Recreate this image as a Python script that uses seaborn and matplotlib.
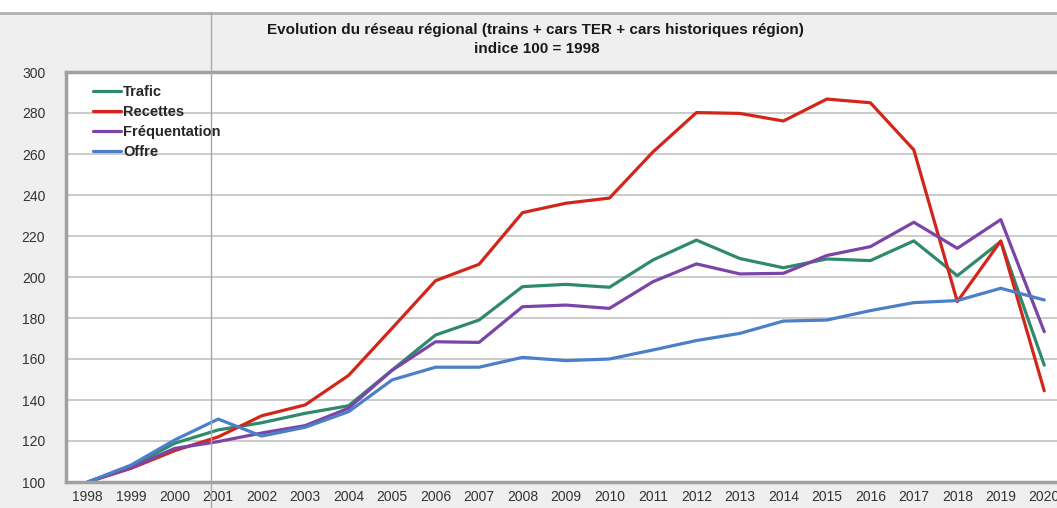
import numpy as np
import pandas as pd
import matplotlib
matplotlib.use("Agg")
import matplotlib.pyplot as plt
from matplotlib.lines import Line2D
from matplotlib.patches import Rectangle
import seaborn as sns

# indices (base 100 = 1998)
annees = list(range(1998, 2021))
trafic = [100, 107.5, 118.9, 125.4, 128.9, 133.5, 137.2, 154.6, 171.7, 179.0, 195.3, 196.4,
          195.0, 208.3, 218.0, 209.0, 204.5, 208.8, 208.0, 217.6, 200.6, 217.3, 157.0]
recettes = [100, 106.7, 115.3, 122.0, 132.3, 137.6, 152.0, 175.0, 198.2, 206.2, 231.4, 236.0,
            238.5, 261.0, 280.2, 279.8, 276.1, 286.8, 285.0, 262.0, 188.0, 217.6, 144.5]
frequentation = [100, 107.0, 116.4, 119.7, 123.9, 127.5, 136.0, 154.5, 168.4, 168.1, 185.5, 186.3,
                 184.7, 197.7, 206.4, 201.5, 201.8, 210.5, 214.8, 226.7, 214.0, 228.0, 173.3]
offre = [100, 108.3, 120.5, 130.7, 122.4, 126.7, 134.3, 149.8, 156.0, 156.0, 160.8, 159.2,
         160.0, 164.4, 169.0, 172.5, 178.5, 179.0, 183.6, 187.5, 188.5, 194.5, 188.8]

series = ["Trafic", "Recettes", "Fréquentation", "Offre"]
couleurs = ["#2f8a6b", "#d2261b", "#7b45a8", "#4b80c8"]
yticks = list(range(100, 301, 20))
titre = ["Evolution du réseau régional (trains + cars TER + cars historiques région)",
         "indice 100 = 1998"]

df = pd.DataFrame({
    "annee": annees * 4,
    "indice": trafic + recettes + frequentation + offre,
    "serie": [s for s in series for _ in annees],
})

sns.set_style("white")
plt.rcParams["font.family"] = ["Liberation Sans", "DejaVu Sans"]

W, H = 1057, 508
fig = plt.figure(figsize=(W / 100, H / 100), dpi=100, facecolor="#efefef")

# screenshot frame: white strip on top, title panel, splitter line
fig.patches.append(Rectangle((0, 1 - 12 / H), 1, 12 / H, transform=fig.transFigure,
                             facecolor="white", edgecolor="none", zorder=0))
fig.add_artist(Line2D([0, 1], [1 - 13 / H] * 2, color="#b0b0b0", lw=2))

ax = fig.add_axes([66 / W, 26 / H, 1000 / W, 410 / H])
sns.lineplot(data=df, x="annee", y="indice", hue="serie",
             palette=dict(zip(series, couleurs)), linewidth=2.3, ax=ax)

ax.set_xlim(1997.5, 2020.5)
ax.set_ylim(100, 300)
ax.set_yticks(yticks)
ax.set_xticks(np.arange(1997.5, 2021, 1))
ax.set_xticklabels([])
ax.set_xticks(annees, minor=True)
ax.set_xticklabels([str(a) for a in annees], minor=True)
ax.tick_params(axis="x", which="major", length=4, width=1, color="#9a9a9a", direction="out")
ax.tick_params(axis="x", which="minor", length=0, pad=5.5, labelsize=10, labelcolor="#333333")
ax.tick_params(axis="y", length=4, width=1, color="#9a9a9a", direction="out",
               pad=11, labelsize=10, labelcolor="#333333")
ax.yaxis.grid(True, color="#c2c2c2", lw=1.2)
ax.xaxis.grid(False)
ax.set_axisbelow(True)
ax.set_xlabel("")
ax.set_ylabel("")
for side in ["left", "bottom", "top"]:
    ax.spines[side].set_color("#a0a0a0")
    ax.spines[side].set_linewidth(2.5)
ax.spines["right"].set_visible(False)

handles, labels = ax.get_legend_handles_labels()
leg = ax.legend(handles, labels, loc="upper left", bbox_to_anchor=(0.027, 0.968),
                frameon=False, borderpad=0, borderaxespad=0, handlelength=1.9,
                handletextpad=0.15, labelspacing=0.42,
                prop={"family": "Liberation Sans", "weight": "bold", "size": 10.5})
for line in leg.get_lines():
    line.set_linewidth(2.3)

fig.text(535 / W, 1 - 30 / H, titre[0], ha="center", va="center",
         fontsize=11, fontweight="bold", color="#1a1a1a")
fig.text(537 / W, 1 - 49 / H, titre[1], ha="center", va="center",
         fontsize=11, fontweight="bold", color="#1a1a1a")

fig.add_artist(Line2D([211 / W] * 2, [0, 1 - 12 / H], color="#a8a8a8", lw=1, zorder=5))

fig.savefig("out.png", dpi=100, facecolor=fig.get_facecolor())
